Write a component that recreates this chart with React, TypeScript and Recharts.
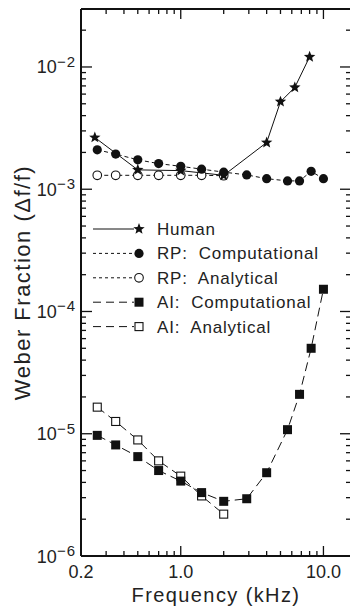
import { Legend, Line, LineChart, XAxis, YAxis } from 'recharts';

// Weber fraction vs frequency (log-log)
const humanFreq = [0.25, 0.5, 1.0, 2.0, 4.0, 5.0, 6.3, 8.0];
const humanWeber = [2.65e-3, 1.44e-3, 1.42e-3, 1.3e-3, 2.41e-3, 5.2e-3, 6.8e-3, 1.21e-2];

const rpCompFreq = [0.26, 0.35, 0.5, 0.7, 1.0, 1.4, 2.0, 2.9, 4.0, 5.6, 6.8, 8.2, 10.0];
const rpCompWeber = [2.1e-3, 1.94e-3, 1.74e-3, 1.62e-3, 1.54e-3, 1.46e-3, 1.38e-3, 1.31e-3, 1.22e-3, 1.17e-3, 1.17e-3, 1.4e-3, 1.22e-3];

const rpAnalFreq = [0.26, 0.35, 0.5, 0.7, 1.0, 1.4, 2.0];
const rpAnalWeber = [1.3e-3, 1.3e-3, 1.3e-3, 1.3e-3, 1.3e-3, 1.3e-3, 1.29e-3];

const aiCompFreq = [0.26, 0.35, 0.5, 0.7, 1.0, 1.4, 2.0, 2.9, 4.0, 5.6, 6.8, 8.2, 10.0];
const aiCompWeber = [9.7e-6, 8.1e-6, 6.5e-6, 5.0e-6, 4.1e-6, 3.3e-6, 2.8e-6, 2.94e-6, 4.8e-6, 1.08e-5, 2.1e-5, 5.0e-5, 1.52e-4];

const aiAnalFreq = [0.26, 0.35, 0.5, 0.7, 1.0, 1.4, 2.0];
const aiAnalWeber = [1.65e-5, 1.26e-5, 8.9e-6, 6.0e-6, 4.5e-6, 3.1e-6, 2.2e-6];

const X_DOMAIN: [number, number] = [0.2, 15.6];
const Y_DOMAIN: [number, number] = [1e-6, 0.0298];

const xLabelValues = [0.2, 1, 10];
const xLabels = ['0.2', '1.0', '10.0'];
const xMinorTicks = [0.3, 0.4, 0.5, 0.6, 0.7, 0.8, 0.9, 2, 3, 4, 5, 6, 7, 8, 9];
const xTicks = [...xLabelValues, ...xMinorTicks];

const yLabelValues = [1e-6, 1e-5, 1e-4, 1e-3, 1e-2];
const yExponents = ['\u22126', '\u22125', '\u22124', '\u22123', '\u22122'];
const yMinorTicks: number[] = [];
for (let e = -6; e <= -2; e++) {
  for (let m = 2; m <= 9; m++) {
    const v = m * Math.pow(10, e);
    if (v < Y_DOMAIN[1]) yMinorTicks.push(v);
  }
}
const yTicks = [...yLabelValues, ...yMinorTicks];

const FONT = '"Liberation Sans", Arial, Helvetica, sans-serif';
const INK = '#111';
const TEXT_INK = '#222';
const tickStroke = { stroke: INK, strokeWidth: 1.3 };

function toPoints(freq: number[], weber: number[]) {
  return freq.map((f, i) => ({ f, w: weber[i] }));
}

type MarkerKind = 'star' | 'dot' | 'ring' | 'square' | 'box';

function Marker({ kind, cx, cy }: { kind: MarkerKind; cx: number; cy: number }) {
  if (kind === 'star') {
    const pts: string[] = [];
    for (let k = 0; k < 10; k++) {
      const a = ((-90 + k * 36) * Math.PI) / 180;
      const r = k % 2 === 0 ? 6 : 2.6;
      pts.push(`${cx + r * Math.cos(a)},${cy + r * Math.sin(a)}`);
    }
    return <polygon points={pts.join(' ')} fill={INK} />;
  }
  if (kind === 'dot') return <circle cx={cx} cy={cy} r={4.6} fill={INK} />;
  if (kind === 'ring') return <circle cx={cx} cy={cy} r={4.3} fill="#fff" stroke={INK} strokeWidth={1.1} />;
  if (kind === 'square') return <rect x={cx - 4.5} y={cy - 4.5} width={9} height={9} fill={INK} />;
  return <rect x={cx - 4} y={cy - 4} width={8} height={8} fill="#fff" stroke={INK} strokeWidth={1.1} />;
}

const series = [
  { name: 'AI:  Analytical', kind: 'box' as MarkerKind, data: toPoints(aiAnalFreq, aiAnalWeber), dash: '9 5', legendDash: '8 5' },
  { name: 'AI:  Computational', kind: 'square' as MarkerKind, data: toPoints(aiCompFreq, aiCompWeber), dash: '9 5', legendDash: '8 5' },
  { name: 'RP:  Analytical', kind: 'ring' as MarkerKind, data: toPoints(rpAnalFreq, rpAnalWeber), dash: '4 3', legendDash: '3 3' },
  { name: 'RP:  Computational', kind: 'dot' as MarkerKind, data: toPoints(rpCompFreq, rpCompWeber), dash: '4 3', legendDash: '3 3' },
  { name: 'Human', kind: 'star' as MarkerKind, data: toPoints(humanFreq, humanWeber), dash: undefined, legendDash: undefined },
];

const legendOrder = ['Human', 'RP:  Computational', 'RP:  Analytical', 'AI:  Computational', 'AI:  Analytical'];

function BottomTick(props: any) {
  const { x, y, payload } = props;
  const v = payload.value as number;
  const li = xLabelValues.indexOf(v);
  const len = li >= 0 ? 10 : 5;
  return (
    <g>
      {v > X_DOMAIN[0] && <line x1={x} x2={x} y1={y} y2={y - len} {...tickStroke} />}
      {li >= 0 && (
        <text x={x} y={y + 22} textAnchor="middle" fontSize={18} fontFamily={FONT} fill={TEXT_INK}>
          {xLabels[li]}
        </text>
      )}
    </g>
  );
}

function TopTick(props: any) {
  const { x, y, payload } = props;
  const v = payload.value as number;
  if (v <= X_DOMAIN[0]) return <g />;
  const len = xLabelValues.indexOf(v) >= 0 ? 10 : 5;
  return <line x1={x} x2={x} y1={y} y2={y + len} {...tickStroke} />;
}

function LeftTick(props: any) {
  const { x, y, payload } = props;
  const v = payload.value as number;
  const li = yLabelValues.indexOf(v);
  const len = li >= 0 ? 11 : 5;
  return (
    <g>
      {v > Y_DOMAIN[0] && <line x1={x} x2={x + len} y1={y} y2={y} {...tickStroke} />}
      {li >= 0 && (
        <text x={x - 5} y={y + 6.5} textAnchor="end" fontSize={18} fontFamily={FONT} fill={TEXT_INK}>
          <tspan>10</tspan>
          <tspan fontSize={15} dy={-6.5} letterSpacing={1}>
            {yExponents[li]}
          </tspan>
        </text>
      )}
    </g>
  );
}

function RightTick(props: any) {
  const { x, y, payload } = props;
  const v = payload.value as number;
  if (v <= Y_DOMAIN[0]) return <g />;
  const len = yLabelValues.indexOf(v) >= 0 ? 11 : 5;
  return <line x1={x} x2={x - len} y1={y} y2={y} {...tickStroke} />;
}

function LegendBox() {
  const rowGap = 24.4;
  return (
    <svg width={250} height={130} style={{ display: 'block', overflow: 'visible' }}>
      {legendOrder.map((name, i) => {
        const s = series.find((d) => d.name === name)!;
        const cy = 14 + i * rowGap;
        return (
          <g key={name}>
            <line x1={3} x2={44} y1={cy} y2={cy} stroke={INK} strokeWidth={1} strokeDasharray={s.legendDash} />
            <Marker kind={s.kind} cx={49} cy={cy} />
            <text
              x={67}
              y={cy + 6}
              fontSize={17}
              fontFamily={FONT}
              fill={TEXT_INK}
              letterSpacing={0.8}
              style={{ whiteSpace: 'pre' }}
            >
              {name}
            </text>
          </g>
        );
      })}
    </svg>
  );
}

export default function App() {
  return (
    <div
      style={{
        position: 'absolute',
        left: 0,
        top: 0,
        width: 350,
        height: 607,
        overflow: 'hidden',
        background: '#fff',
      }}
    >
      <LineChart width={352} height={607} margin={{ top: 8, right: 0, bottom: 0, left: 0 }}>
        <XAxis
          xAxisId="b"
          orientation="bottom"
          type="number"
          dataKey="f"
          scale="log"
          domain={X_DOMAIN}
          allowDataOverflow
          ticks={xTicks}
          interval={0}
          tickSize={0}
          tickMargin={0}
          tickLine={false}
          tick={BottomTick}
          axisLine={{ stroke: INK, strokeWidth: 2 }}
          height={51}
          label={{
            value: 'Frequency (kHz)',
            position: 'insideBottom',
            offset: 5,
            style: { fontSize: 20, fontFamily: FONT, fill: TEXT_INK, letterSpacing: 1.4 },
          }}
        />
        <XAxis
          xAxisId="t"
          orientation="top"
          type="number"
          dataKey="f"
          scale="log"
          domain={X_DOMAIN}
          allowDataOverflow
          ticks={xTicks}
          interval={0}
          tickSize={0}
          tickMargin={0}
          tickLine={false}
          tick={TopTick}
          axisLine={{ stroke: INK, strokeWidth: 2 }}
          height={1}
        />
        <YAxis
          yAxisId="l"
          orientation="left"
          type="number"
          dataKey="w"
          scale="log"
          domain={Y_DOMAIN}
          allowDataOverflow
          ticks={yTicks}
          interval={0}
          tickSize={0}
          tickMargin={0}
          tickLine={false}
          tick={LeftTick}
          axisLine={{ stroke: INK, strokeWidth: 2 }}
          width={81}
          label={{
            value: 'Weber Fraction (\u0394f/f)',
            angle: -90,
            position: 'insideLeft',
            offset: 22,
            style: { fontSize: 22, fontFamily: FONT, fill: TEXT_INK, letterSpacing: 1.5, textAnchor: 'middle' },
          }}
        />
        <YAxis
          yAxisId="r"
          orientation="right"
          type="number"
          dataKey="w"
          scale="log"
          domain={Y_DOMAIN}
          allowDataOverflow
          ticks={yTicks}
          interval={0}
          tickSize={0}
          tickMargin={0}
          tickLine={false}
          tick={RightTick}
          axisLine={{ stroke: INK, strokeWidth: 2 }}
          width={1}
        />
        {series.map((s) => (
          <Line
            key={s.name}
            name={s.name}
            xAxisId="b"
            yAxisId="l"
            data={s.data}
            dataKey="w"
            type="linear"
            stroke={INK}
            strokeWidth={1}
            strokeDasharray={s.dash}
            dot={(p: any) => <Marker key={`${s.name}-${p.index}`} kind={s.kind} cx={p.cx} cy={p.cy} />}
            activeDot={false}
            isAnimationActive={false}
          />
        ))}
        <Legend
          layout="vertical"
          align="center"
          verticalAlign="middle"
          content={() => <LegendBox />}
          wrapperStyle={{ left: 90, top: 215, width: 250, height: 130 }}
        />
      </LineChart>
    </div>
  );
}
